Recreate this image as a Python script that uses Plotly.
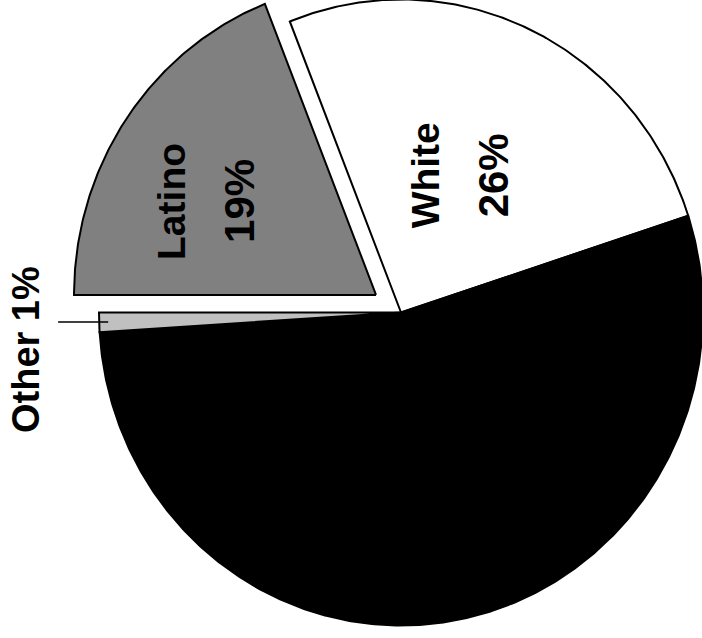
import numpy as np
import plotly.graph_objects as go

# ---------------- data ----------------
groups = ["Latino", "White", "Black", "Other"]
shares = [19, 26, 54, 1]
share_text = ["19%", "26%", "54%", "1%"]
pulled_groups = ["Latino"]
inside_labelled = ["Latino", "White"]
outside_labelled = ["Other"]

# ---------------- style ----------------
fill_colors = {"Latino": "#808080", "White": "#ffffff", "Black": "#000000", "Other": "#c0c0c0"}
START_DEG = 270          # first slice starts at 9 o'clock, goes clockwise
PULL = 0.1
W, H = 702, 638
CX, CY = 401, 312.5      # pie centre in px
RX, RY = 302, 313        # px per radius unit (slightly elliptical like the reference)
FAMILY = "Liberation Sans, Arial, sans-serif"
NAME_FONT = dict(family=FAMILY, size=39, color="black", weight="bold")
PCT_FONT = dict(family=FAMILY, size=42, color="black", weight="bold")
OUT_FONT = dict(family=FAMILY, size=38, color="black", weight="bold")
label_pos = {"Latino": (0.641, -6.3), "White": (0.479, -1.2)}   # (radius fraction, angle offset deg)
LINE_GAP_PX = 68

xr = [-CX / RX, (W - CX) / RX]
yr = [-(H - CY) / RY, CY / RY]

fig = go.Figure()
total = float(sum(shares))
theta0 = START_DEG
geom = {}
for g, s, st in zip(groups, shares, share_text):
    span = 360.0 * s / total
    th = np.radians(np.linspace(theta0, theta0 + span, max(int(span * 2), 8)))
    mid = np.radians(theta0 + span / 2)
    p = PULL if g in pulled_groups else 0.0
    ox, oy = p * np.sin(mid), p * np.cos(mid)
    xs = np.concatenate([[ox], ox + np.sin(th), [ox]])
    ys = np.concatenate([[oy], oy + np.cos(th), [oy]])
    fig.add_trace(go.Scatter(
        x=xs, y=ys, mode="lines", fill="toself", fillcolor=fill_colors[g],
        line=dict(color="black", width=2), name=f"{g} {st}", hoverinfo="name",
        showlegend=False))
    geom[g] = (mid, ox, oy, st)
    theta0 += span

annotations = []
gap = LINE_GAP_PX / RX
for g in inside_labelled:
    mid, ox, oy, st = geom[g]
    r, dth = label_pos[g]
    a = mid + np.radians(dth)
    lx, ly = ox + r * np.sin(a), oy + r * np.cos(a)
    for txt, dx, f in ((g, -gap / 2, NAME_FONT), (st, gap / 2, PCT_FONT)):
        annotations.append(dict(x=lx + dx, y=ly, text=txt, showarrow=False, textangle=-90,
                                xanchor="center", yanchor="middle", font=f))

for g in outside_labelled:
    mid, ox, oy, st = geom[g]
    x0, y0 = 0.97 * np.sin(mid), 0.97 * np.cos(mid)
    x1, y1 = 1.136 * np.sin(mid), 0.97 * np.cos(mid)
    fig.add_shape(type="line", x0=x0, y0=y0, x1=x1, y1=y1, line=dict(color="black", width=1.5))
    annotations.append(dict(x=1.24 * np.sin(mid), y=np.cos(mid) - 27 / RY, text=f"{g} {st}",
                            showarrow=False, textangle=-90, xanchor="center", yanchor="middle",
                            font=OUT_FONT))

fig.update_layout(
    width=W, height=H, margin=dict(l=0, r=0, t=0, b=0),
    paper_bgcolor="white", plot_bgcolor="white",
    xaxis=dict(range=xr, visible=False, fixedrange=True),
    yaxis=dict(range=yr, visible=False, fixedrange=True),
    annotations=annotations, showlegend=False,
)
fig.write_html("out.html", config={"displayModeBar": False},
               post_script="document.body.style.margin='0';document.body.style.overflow='hidden';")
